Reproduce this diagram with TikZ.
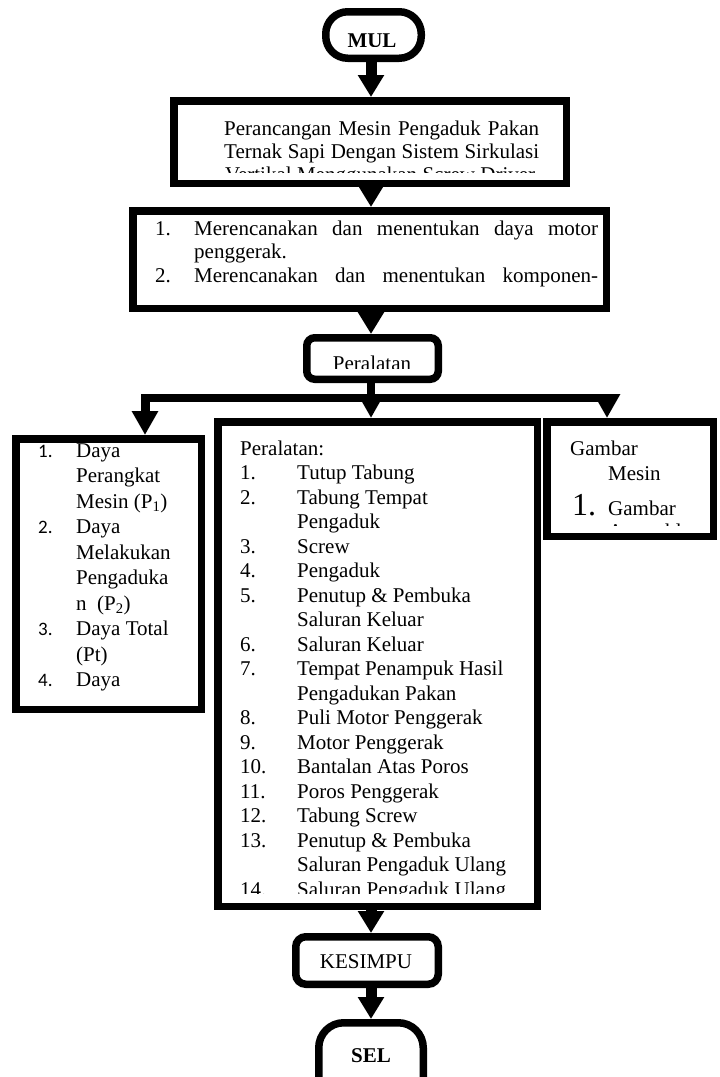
\documentclass[tikz,border=0pt]{standalone}
\usepackage{fontspec}
\setmainfont{Liberation Serif}
\newfontfamily\calib{Carlito}
\usetikzlibrary{arrows.meta}
\newcommand\fs{\fontsize{21}{24.5}\selectfont}
\newcommand\nfs{\calib\fontsize{19}{22}\selectfont}
\begin{document}
\begin{tikzpicture}[x=1pt,y=-1pt,
  box/.style={draw, line width=7.5pt, inner sep=0pt, fill=white},
  rbox/.style={box, rounded corners=#1},
  arr/.style={-{Triangle[width=25pt,length=22pt]}, line width=11pt},
  arrs/.style={-{Triangle[width=25pt,length=24pt]}, line width=9pt},
  barline/.style={line width=7.5pt},
  txt/.style={inner sep=0pt, anchor=base west, font=\fs},
  num/.style={inner sep=0pt, anchor=base west, font=\nfs}]
\clip (0,0) rectangle (720,1077);
\fill[white] (0,0) rectangle (720,1077);
\coordinate (cx) at (371,0);
% boxes
\node[rbox=22pt, minimum width=95.5pt, minimum height=46.5pt] (mul) at (373.5,35) {};
\node[box, minimum width=392.5pt, minimum height=82.5pt] (b2) at (370,142) {};
\node[box, minimum width=473.5pt, minimum height=97.5pt] (b3) at (369.5,259.5) {};
\node[rbox=8pt, minimum width=131.5pt, minimum height=41.5pt] (per) at (372.5,358.5) {};
\node[box, minimum width=185.5pt, minimum height=270.5pt] (lb) at (108.5,574) {};
\node[box, minimum width=319.5pt, minimum height=484.5pt] (mb) at (377.5,664) {};
\node[box, minimum width=166.5pt, minimum height=114.5pt] (rb) at (630,479) {};
\node[rbox=10pt, minimum width=142.5pt, minimum height=47.5pt] (kes) at (367,960.5) {};
\node[rbox=25pt, minimum width=104.5pt, minimum height=100pt] (sel) at (371,1072.75) {};
% connectors
\coordinate (barL) at (145,398);
\coordinate (barR) at (607,398);
\coordinate (barM) at (371,398);
\draw[arr] (mul.south -| cx) -- (b2.north -| cx);
\draw[arr] (b2.south -| cx) -- (b3.north -| cx);
\draw[arr] (b3.south -| cx) -- (per.north -| cx);
\draw[barline] (per.south -| cx) -- (barM);
\draw[barline, line cap=rect] (barL) -- (barR);
\draw[arrs] (barL) -- (barL |- lb.north);
\draw[arrs] (barM) -- (barM |- mb.north);
\draw[arrs] (barR) -- (barR |- rb.north);
\draw[arr] (mb.south -| cx) -- (kes.north -| cx);
\draw[arr] (kes.south -| cx) -- (sel.north -| cx);
% MUL
\begin{scope}
\clip (300,10) rectangle (450,46.5);
\node[txt, anchor=base, font=\fs\bfseries] (tmul) at (372,47.5) {MUL};
\end{scope}
% box 2
\begin{scope}
\clip (174,101) rectangle (566,172);
\node[txt] (t2a) at (224,135) {\makebox[315pt][s]{Perancangan Mesin Pengaduk Pakan}};
\node[txt] (t2b) at (224,158.3) {\makebox[315pt][s]{Ternak Sapi Dengan Sistem Sirkulasi}};
\node[txt] (t2c) at (225,181.6) {\makebox[310pt][s]{Vertikal Menggunakan Screw Driver}};
\end{scope}
% box 3
\begin{scope}
\clip (133,211) rectangle (606,290);
\node[txt] (n31) at (155,235) {1.};
\node[txt] (t31) at (194,235) {\makebox[404pt][s]{Merencanakan dan menentukan daya motor}};
\node[txt] (t32) at (194,258.5) {penggerak.};
\node[txt] (n32) at (155,282) {2.};
\node[txt] (t33) at (194,282) {\makebox[404pt][s]{Merencanakan dan menentukan komponen-}};
\end{scope}
% Peralatan
\begin{scope}
\clip (306,338) rectangle (440,368);
\node[txt, anchor=base] (tper) at (372,370) {Peralatan};
\end{scope}
% left box
\node[num] (l1n) at (38,457) {1.};
\node[txt] (l1) at (76,457) {Daya};
\node[txt] (l2) at (76,482.5) {Perangkat};
\node[txt] (l3) at (76,508) {Mesin (P\textsubscript{1})};
\node[num] (l4n) at (38,533.5) {2.};
\node[txt] (l4) at (76,533.5) {Daya};
\node[txt] (l5) at (76,559) {Melakukan};
\node[txt] (l6) at (76,584.5) {Pengaduka};
\node[txt] (l7) at (76,610) {n\ \ (P\textsubscript{2})};
\node[num] (l8n) at (38,635.5) {3.};
\node[txt] (l8) at (76,635.5) {Daya Total};
\node[txt] (l9) at (76,661) {(Pt)};
\node[num] (l10n) at (38,686.5) {4.};
\node[txt] (l10) at (76,686.5) {Daya};
% middle box
\begin{scope}
\clip (218,422) rectangle (537,893);
\node[txt] (m0) at (240,455) {Peralatan:};
\node[txt] (m1n) at (240,479.5) {1.};   \node[txt] (m1) at (297,479.5) {Tutup Tabung};
\node[txt] (m2n) at (240,504) {2.};     \node[txt] (m2) at (297,504) {Tabung Tempat};
\node[txt] (m2b) at (297,528.5) {Pengaduk};
\node[txt] (m3n) at (240,553) {3.};     \node[txt] (m3) at (297,553) {Screw};
\node[txt] (m4n) at (240,577.5) {4.};   \node[txt] (m4) at (297,577.5) {Pengaduk};
\node[txt] (m5n) at (240,602) {5.};     \node[txt] (m5) at (297,602) {Penutup \& Pembuka};
\node[txt] (m5b) at (297,626.5) {Saluran Keluar};
\node[txt] (m6n) at (240,651) {6.};     \node[txt] (m6) at (297,651) {Saluran Keluar};
\node[txt] (m7n) at (240,675.5) {7.};   \node[txt] (m7) at (297,675.5) {Tempat Penampuk Hasil};
\node[txt] (m7b) at (297,700) {Pengadukan Pakan};
\node[txt] (m8n) at (240,724.5) {8.};   \node[txt] (m8) at (297,724.5) {Puli Motor Penggerak};
\node[txt] (m9n) at (240,749) {9.};     \node[txt] (m9) at (297,749) {Motor Penggerak};
\node[txt] (m10n) at (240,773.5) {10.}; \node[txt] (m10) at (297,773.5) {Bantalan Atas Poros};
\node[txt] (m11n) at (240,798) {11.};   \node[txt] (m11) at (297,798) {Poros Penggerak};
\node[txt] (m12n) at (240,822.5) {12.}; \node[txt] (m12) at (297,822.5) {Tabung Screw};
\node[txt] (m13n) at (240,847) {13.};   \node[txt] (m13) at (297,847) {Penutup \& Pembuka};
\node[txt] (m13b) at (297,871.5) {Saluran Pengaduk Ulang};
\node[txt] (m14n) at (240,896) {14.};   \node[txt] (m14) at (297,896) {Saluran Pengaduk Ulang};
\end{scope}
% right box
\begin{scope}
\clip (547,422) rectangle (713,525);
\node[txt] (r1) at (570,455) {Gambar};
\node[txt] (r2) at (608,480) {Mesin};
\node[txt, font=\fontsize{32}{36}\selectfont] (r3n) at (572,515) {1.};
\node[txt] (r3) at (608,515) {Gambar};
\node[txt] (r4) at (608,538) {Assembly};
\end{scope}
% bottom
\node[txt, anchor=base] (tkes) at (366,968) {KESIMPU};
\node[txt, anchor=base, font=\fs\bfseries] (tsel) at (371,1062) {SEL};
\end{tikzpicture}
\end{document}
